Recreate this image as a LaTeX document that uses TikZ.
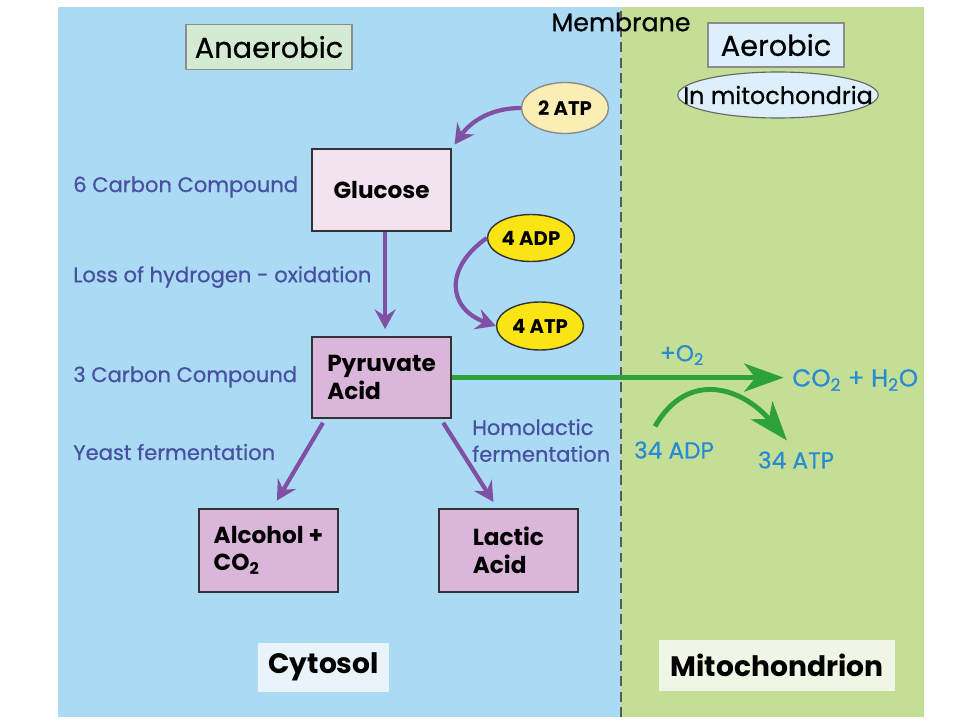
\documentclass[tikz,border=0pt]{standalone}
\usepackage{fontspec}
\setmainfont{Poppins}
\newfontfamily\notefont{Poppins}[FakeBold = 0.6]
\usetikzlibrary{arrows.meta}
\usetikzlibrary{shapes.geometric}
\usetikzlibrary{positioning}

\definecolor{cytoblue}{RGB}{171,218,245}
\definecolor{mitogreen}{RGB}{196,222,150}
\definecolor{arrowpurple}{RGB}{128,80,165}
\definecolor{notecolor}{RGB}{72,80,160}
\definecolor{aerocolor}{RGB}{40,140,212}
\definecolor{arrowgreen}{RGB}{46,162,58}
\definecolor{glucosefill}{RGB}{243,227,241}
\definecolor{acidfill}{RGB}{218,183,218}
\definecolor{anaerofill}{RGB}{213,234,211}
\definecolor{aerofill}{RGB}{221,239,250}
\definecolor{atpcream}{RGB}{250,238,180}
\definecolor{adpyellow}{RGB}{250,228,20}
\definecolor{cytofill}{RGB}{232,244,250}
\definecolor{mitofill}{RGB}{239,246,229}

\tikzset{
  compound/.style = {draw = black!80, line width = 1.5pt, minimum width = 3.475cm, align = left, inner sep = 0pt, font = \fontsize{16.5}{19.5}\selectfont\bfseries},
  sidenote/.style = {anchor = west, inner sep = 0pt, text = notecolor, align = left, font = \notefont\fontsize{15}{19}\selectfont},
  aeronote/.style = {inner sep = 0pt, text = aerocolor, font = \notefont\fontsize{16.5}{19}\selectfont},
  energy/.style = {ellipse, line width = 1pt, minimum width = 2.175cm, minimum height = 1.2cm, inner sep = 0pt, font = \fontsize{14}{16}\selectfont\bfseries},
  headerbox/.style = {draw = black!45, line width = 0.8pt, minimum height = 1.125cm, font = \notefont\fontsize{20.5}{22}\selectfont},
  regionbox/.style = {minimum height = 1.225cm, font = \fontsize{20}{22}\selectfont\bfseries},
  glycolysis/.style = {draw = arrowpurple, line width = 3pt, -{Stealth[length = 14pt, width = 15pt, inset = 5pt]}},
  respiration/.style = {draw = arrowgreen, line width = 3.5pt, -{Stealth[length = 28pt, width = 20pt, inset = 8pt]}}
}

\begin{document}
\begin{tikzpicture}

  \fill[white] (0, 0) rectangle (24, 18); % page
  \useasboundingbox (0, 0) rectangle (24, 18);
  \fill[cytoblue] (1.45, 0.075) rectangle (15.525, 17.825); % cytosol side
  \fill[mitogreen] (15.525, 0.075) rectangle (23.1, 17.825); % mitochondrion side
  \draw[black!65, line width = 1.2pt, dash pattern = on 7pt off 4pt] (15.525, 0.075) -- (15.525, 17.825); % membrane

  \node[font = \notefont\fontsize{18}{20}\selectfont] (membrane) at (15.525, 17.45) {Membrane};
  \node[headerbox, fill = anaerofill, minimum width = 4.15cm] (anaerobic) at (6.725, 16.825) {Anaerobic};
  \node[headerbox, fill = aerofill, minimum width = 3.4cm, minimum height = 1.1cm] (aerobic) at (19.4, 16.875) {Aerobic};
  \node[ellipse, draw = black!60, line width = 0.8pt, fill = aerofill, minimum height = 1.15cm, inner xsep = -17pt, inner ysep = 0pt, font = \notefont\fontsize{17}{19}\selectfont] (inmito) at (19.45, 15.625) {In mitochondria};

  % glycolysis in the cytosol
  \node[compound, fill = glucosefill, minimum height = 2.05cm] (glucose) at (9.54, 13.25) {Glucose};
  \node[compound, fill = acidfill, minimum height = 2.025cm] (pyruvate) at (9.54, 8.56) {Pyruvate\\Acid};
  \node[compound, fill = acidfill, minimum height = 2.075cm] (alcohol) at (6.71, 4.24) {Alcohol +\\CO\textsubscript{2}};
  \node[compound, fill = acidfill, minimum height = 2.075cm] (lactic) at (12.71, 4.24) {Lactic\\Acid};

  \node[energy, draw = black!45, fill = atpcream, minimum height = 1.275cm] (atp2) at (14.125, 15.3) {2 ATP};
  \node[energy, draw = black!80, fill = adpyellow, minimum height = 1.175cm] (adp4) at (13.275, 12.05) {4 ADP};
  \node[energy, draw = black!80, fill = adpyellow] (atp4) at (13.5, 9.85) {4 ATP};

  \node[sidenote] (sixcarbon) at (1.825, 13.325) {6 Carbon Compound};
  \node[sidenote] (oxidation) at (1.825, 11.075) {Loss of hydrogen - oxidation};
  \node[sidenote] (threecarbon) at (1.825, 8.575) {3 Carbon Compound};
  \node[sidenote] (yeast) at (1.825, 6.7) {Yeast fermentation};
  \node[sidenote] (homolactic) at (11.8, 6.99) {Homolactic\\fermentation};

  \draw[glycolysis, shorten >= 3pt] (atp2.west) to[out = 180, in = 55] (glucose.north east);
  \draw[glycolysis, shorten >= 5pt] ([xshift = 2.5pt]glucose.south) -- ([xshift = 2.5pt]pyruvate.north);
  \draw[glycolysis, looseness = 1.5] (adp4.west) to[out = 215, in = 160] (atp4.west);
  \draw[glycolysis, shorten <= 3pt, shorten >= 6pt] ([xshift = 10pt]pyruvate.south west) -- ([xshift = 3pt]alcohol.north);
  \draw[glycolysis, shorten <= 3pt, shorten >= 5pt] ([xshift = -8pt]pyruvate.south east) -- ([xshift = -8pt]lactic.north);

  % respiration in the mitochondrion
  \node[aeronote] (oxygen) at (17.05, 9.125) {+O\textsubscript{2}};
  \node[aeronote, anchor = west, font = \notefont\fontsize{17.5}{19}\selectfont] (products) at (19.8, 8.5) {CO\textsubscript{2} + H\textsubscript{2}O};
  \node[aeronote] (adp34) at (16.85, 6.75) {34 ADP};
  \node[aeronote] (atp34) at (19.9, 6.5) {34 ATP};

  \draw[respiration, shorten >= 6pt] (pyruvate.east) -- (pyruvate.east -| products.west);
  \draw[respiration, looseness = 1.3] ([xshift = -13.5pt, yshift = 10.5pt]adp34.north) to[out = 60, in = 130] ([xshift = -6.4pt, yshift = 7.5pt]atp34.north);

  \node[regionbox, fill = cytofill, minimum width = 3.275cm] (cytosol) at (8.09, 1.325) {Cytosol};
  \node[regionbox, fill = mitofill, minimum width = 5.9cm, minimum height = 1.275cm] (mitochondrion) at (19.425, 1.36) {Mitochondrion};

\end{tikzpicture}
\end{document}
